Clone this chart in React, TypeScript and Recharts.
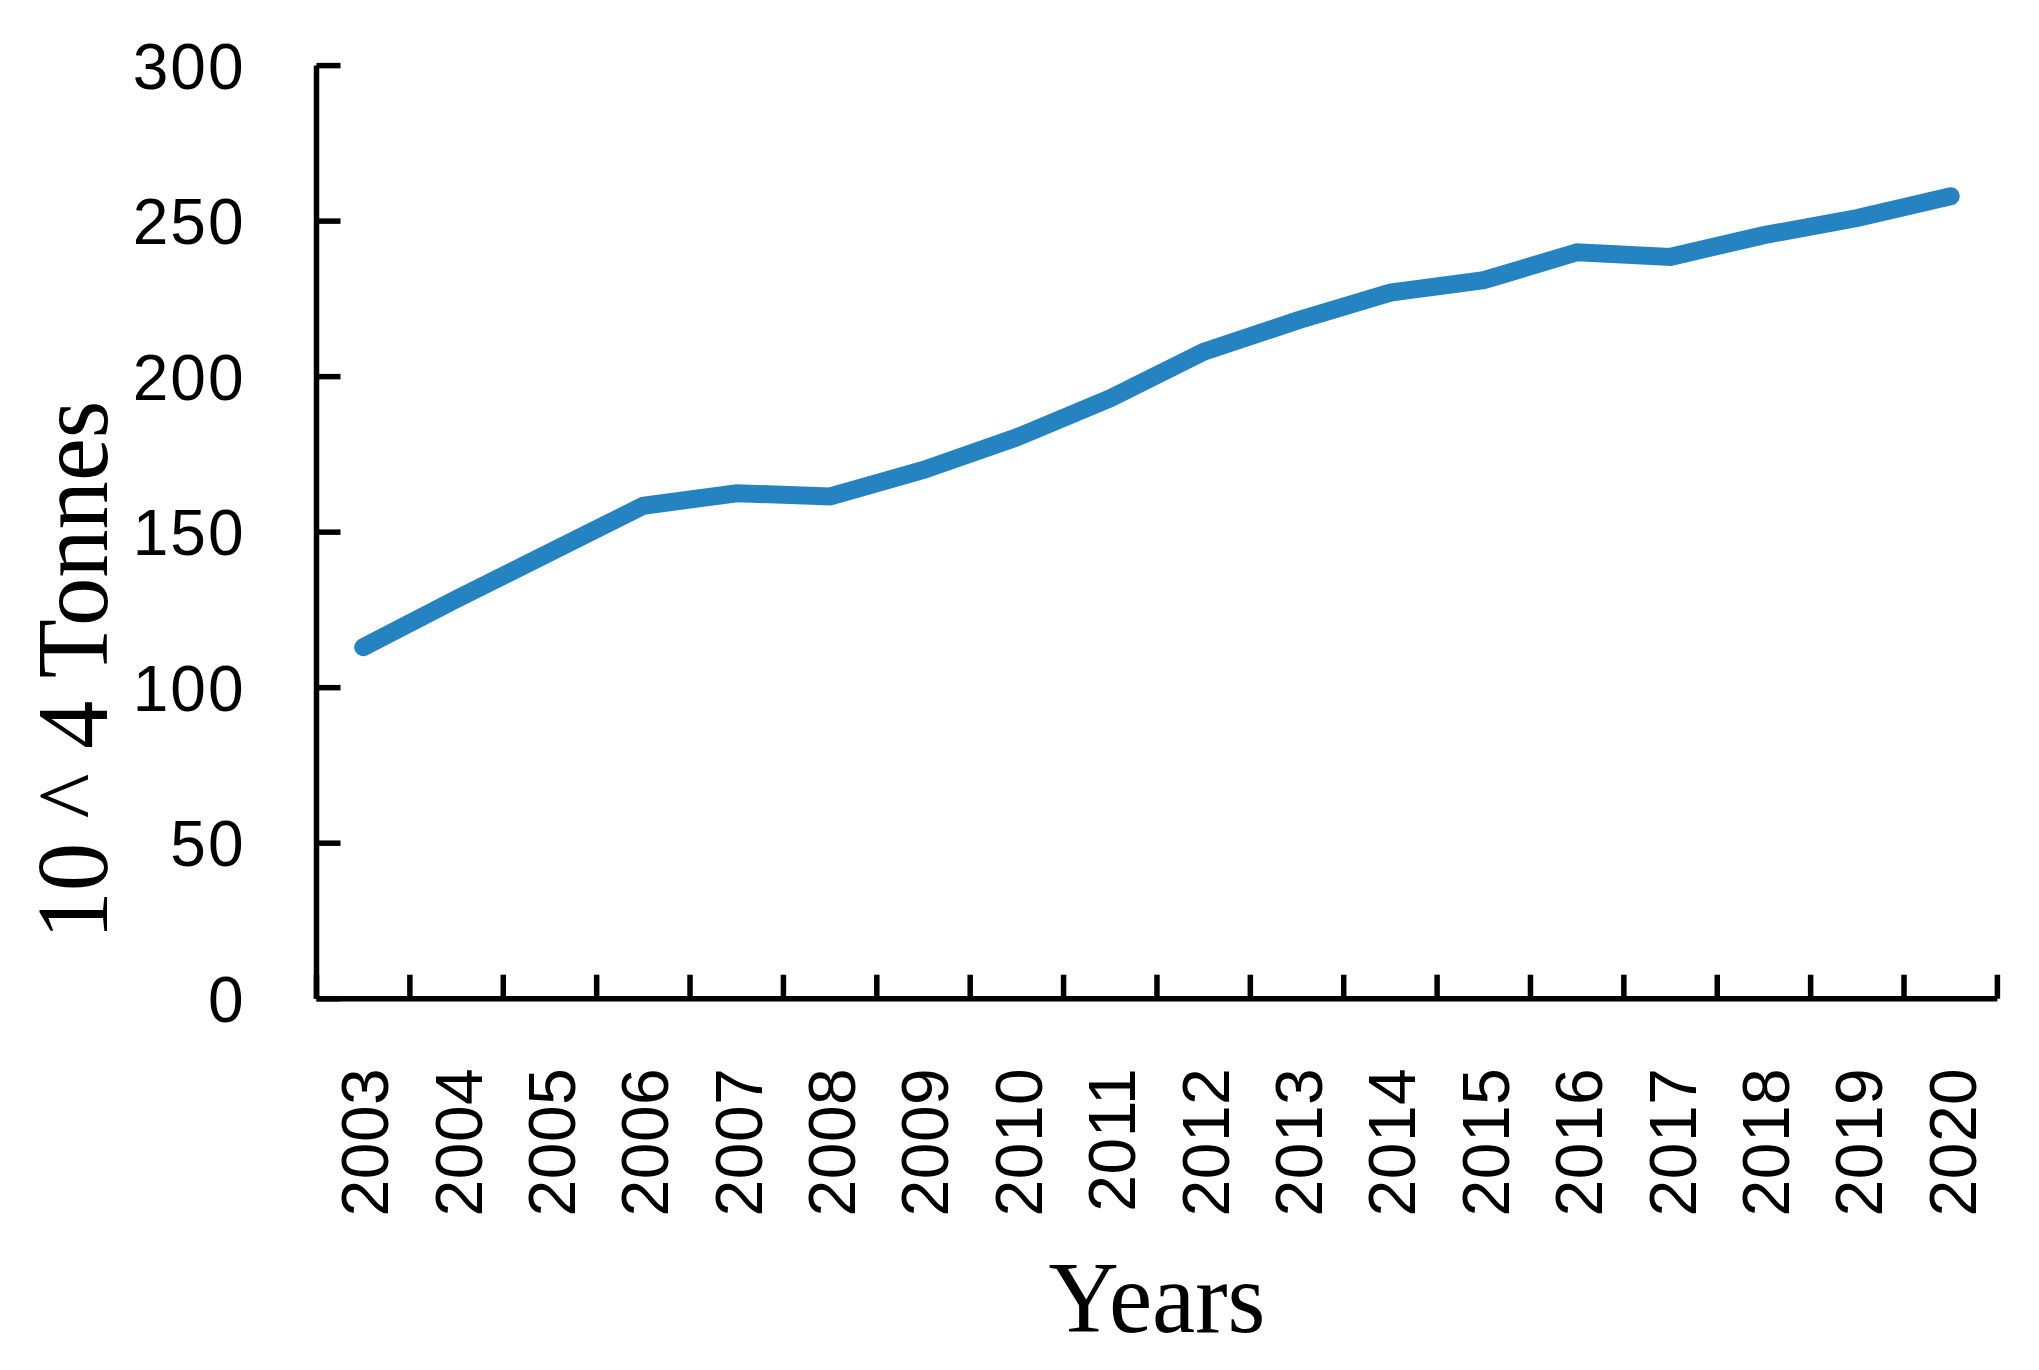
import { LineChart, Line, XAxis, YAxis, Label } from 'recharts'

const years = [2003, 2004, 2005, 2006, 2007, 2008, 2009, 2010, 2011, 2012, 2013, 2014, 2015, 2016, 2017, 2018, 2019, 2020]
const tonnes = [113, 128.5, 143.5, 158.5, 162.5, 161.5, 170, 180.5, 193, 208, 218, 227, 231, 240, 238.5, 245.5, 251, 258]
const valueTicks = [0, 50, 100, 150, 200, 250, 300]

const data = years.map((year, i) => ({ year, value: tonnes[i] }))

const SANS = '"Liberation Sans", Arial, sans-serif'
const SERIF = '"Liberation Serif", "Times New Roman", serif'

// x ticks: rotated year labels, tick marks sit between categories and point inward
function YearTick(props: any) {
  const { x, y, payload } = props
  const half = payload.offset ?? 0
  const last = payload.value === years[years.length - 1]
  return (
    <g>
      <line x1={x - half} y1={y} x2={x - half} y2={y - 24} stroke="#000" strokeWidth={5.5} />
      {last && <line x1={x + half} y1={y} x2={x + half} y2={y - 24} stroke="#000" strokeWidth={5.5} />}
      <text
        transform={`translate(${x + 25},${y + 69}) rotate(-90)`}
        textAnchor="end"
        fontFamily={SANS}
        fontSize={66}
        letterSpacing={0.5}
        fill="#000"
      >
        {payload.value}
      </text>
    </g>
  )
}

function ValueTick(props: any) {
  const { x, y, payload } = props
  return (
    <g>
      <line x1={x} y1={y} x2={x + 24} y2={y} stroke="#000" strokeWidth={5.5} />
      <text x={x - 71} y={y} dy="0.36em" textAnchor="end" fontFamily={SANS} fontSize={64} letterSpacing={2} fill="#000">
        {payload.value}
      </text>
    </g>
  )
}

export default function App() {
  return (
    <LineChart
      width={2023}
      height={1354}
      data={data}
      margin={{ top: 57.6, right: 33.6, left: 0, bottom: 0 }}
    >
      <XAxis
        dataKey="year"
        type="category"
        scale="band"
        height={363.3}
        interval={0}
        tickLine={false}
        tickSize={0}
        tickMargin={0}
        axisLine={{ stroke: '#000', strokeWidth: 5.5 }}
        tick={<YearTick />}
      >
        <Label
          content={(p: any) => {
            const vb = p.viewBox
            return (
              <text
                x={vb.x + vb.width / 2}
                y={vb.y + 333}
                textAnchor="middle"
                fontFamily={SERIF}
                fontSize={101}
                textLength={217}
                lengthAdjust="spacingAndGlyphs"
                fill="#000"
              >
                Years
              </text>
            )
          }}
        />
      </XAxis>
      <YAxis
        type="number"
        domain={[0, 300]}
        ticks={valueTicks}
        width={308.5}
        interval={0}
        tickLine={false}
        tickSize={0}
        tickMargin={0}
        axisLine={{ stroke: '#000', strokeWidth: 5.5 }}
        tick={<ValueTick />}
      >
        <Label
          content={(p: any) => {
            const vb = p.viewBox
            return (
              <text
                transform={`translate(${vb.x + 99},${662}) rotate(-90)`}
                textAnchor="middle"
                fontFamily={SERIF}
                fontSize={101}
                textLength={539}
                lengthAdjust="spacingAndGlyphs"
                fill="#000"
              >
                10 ^ 4 Tonnes
              </text>
            )
          }}
        />
      </YAxis>
      <Line
        type="linear"
        dataKey="value"
        stroke="#2683C2"
        strokeWidth={18}
        strokeLinecap="round"
        dot={false}
        activeDot={false}
        isAnimationActive={false}
      />
    </LineChart>
  )
}
